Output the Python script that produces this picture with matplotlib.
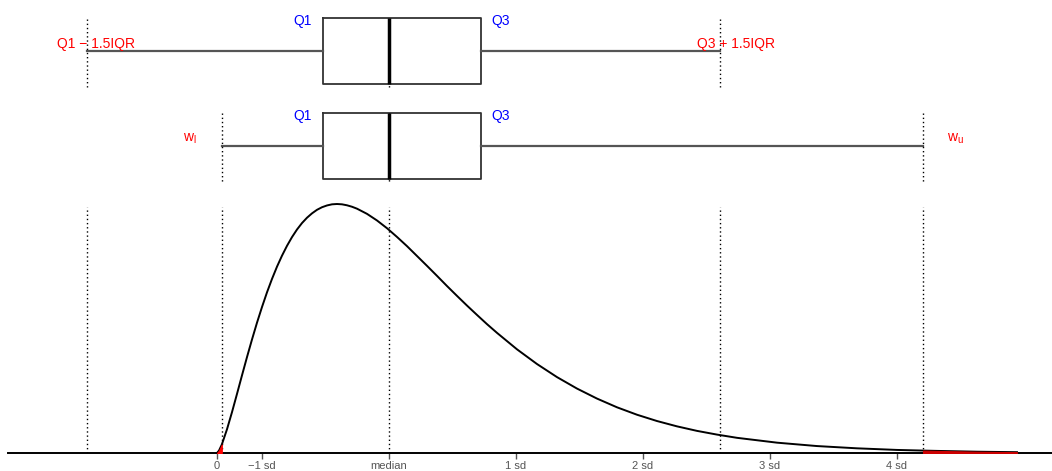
import matplotlib
matplotlib.use('Agg')
import matplotlib.pyplot as plt

plt.rcParams['font.family'] = ['Liberation Sans', 'DejaVu Sans']
plt.rcParams['mathtext.fontset'] = 'custom'
plt.rcParams['mathtext.rm'] = 'Liberation Sans'
plt.rcParams['mathtext.it'] = 'Liberation Sans'

# Summary values (x in data units)
q1, med, q3 = 2.65, 4.3, 6.6
fence_lo, fence_hi = -3.25, 12.58
w_lo, w_hi = 0.12, 17.65
sd = 3.175

# Density curve
dens_x = [0, 0.05, 0.12, 0.25, 0.375, 0.5, 0.625, 0.75, 0.875, 1, 1.125, 1.25,
          1.375, 1.5, 1.625, 1.75, 1.875, 2, 2.125, 2.25, 2.375, 2.5, 2.625,
          2.75, 2.875, 3, 3.125, 3.25, 3.375, 3.5, 3.75, 4, 4.25, 4.5, 4.75,
          5, 5.25, 5.5, 5.75, 6, 6.25, 6.5, 6.75, 7, 7.5, 8, 8.5, 9, 9.5, 10,
          10.5, 11, 11.5, 12, 12.5, 13, 14, 15, 16, 17, 17.65, 18, 19, 20]
dens_y = [0, 0.0015, 0.0052, 0.0147, 0.0253, 0.0366, 0.0481, 0.0594, 0.0703,
          0.0807, 0.0904, 0.0995, 0.1078, 0.1154, 0.1222, 0.1283, 0.1337,
          0.1384, 0.1424, 0.1457, 0.1484, 0.1506, 0.1522, 0.1533, 0.1540,
          0.1542, 0.1540, 0.1534, 0.1525, 0.1513, 0.1481, 0.1440, 0.1392,
          0.1338, 0.1281, 0.1220, 0.1159, 0.1097, 0.1034, 0.0973, 0.0913,
          0.0855, 0.0798, 0.0744, 0.0642, 0.0551, 0.0470, 0.0399, 0.0337,
          0.0283, 0.0237, 0.0198, 0.0165, 0.0137, 0.0114, 0.0094, 0.0064,
          0.0043, 0.0029, 0.0019, 0.0015, 0.0013, 0.0008, 0.0005]

tick_pos = [0] + [med + k * sd for k in (-1, 0, 1, 2, 3, 4)]
tick_lab = ['0', '\u22121 sd', 'median', '1 sd', '2 sd', '3 sd', '4 sd']

W, H = 1052, 471
x0_px, x1_px, scale = 8, 1052, 40.0
zero_px = 217
xlim = ((x0_px - zero_px) / scale, (x1_px - zero_px) / scale)


def main():
    fig = plt.figure(figsize=(W / 100, H / 100), dpi=100)

    # boxplot panel (y in pixel rows from the top)
    top = fig.add_axes([x0_px / W, 1 - 195 / H, (x1_px - x0_px) / W, 195 / H])
    top.set_xlim(xlim)
    top.set_ylim(195, 0)
    top.axis('off')

    stats = [
        dict(med=med, q1=q1, q3=q3, whislo=fence_lo, whishi=fence_hi, fliers=[]),
        dict(med=med, q1=q1, q3=q3, whislo=w_lo, whishi=w_hi, fliers=[]),
    ]
    top.bxp(stats, positions=[51, 146], widths=66, orientation='horizontal',
            showcaps=False, showfliers=False,
            boxprops=dict(color='#333333', lw=1.3),
            whiskerprops=dict(color='#555555', lw=1.6),
            medianprops=dict(color='black', lw=2.5))

    dots = dict(colors='black', lw=1.0, linestyles=[(0, (1, 2))])
    top.vlines([fence_lo, med, fence_hi], 19, 87, **dots)
    top.vlines([w_lo, med, w_hi], 113, 182, **dots)

    px = lambda p: (p - zero_px) / scale
    fs = 10
    top.text(px(312), 21, 'Q1', color='blue', fontsize=fs, ha='right', va='center')
    top.text(px(491), 21, 'Q3', color='blue', fontsize=fs, ha='left', va='center')
    top.text(px(312), 116, 'Q1', color='blue', fontsize=fs, ha='right', va='center')
    top.text(px(491), 116, 'Q3', color='blue', fontsize=fs, ha='left', va='center')
    top.text(px(96), 44, 'Q1 \u2212 1.5IQR', color='red', fontsize=fs, ha='center', va='center')
    top.text(px(736), 44, 'Q3 + 1.5IQR', color='red', fontsize=fs, ha='center', va='center')
    top.text(px(190), 139, r'$\mathrm{w_l}$', color='red', fontsize=fs, ha='center', va='center')
    top.text(px(955), 139, r'$\mathrm{w_u}$', color='red', fontsize=fs, ha='center', va='center')

    # density panel
    bot = fig.add_axes([x0_px / W, 1 - 453 / H, (x1_px - x0_px) / W, 253 / H])
    bot.set_xlim(xlim)
    bot.set_ylim(0, 0.1542 * 253 / 249)
    for s in ('left', 'right', 'top'):
        bot.spines[s].set_visible(False)
    bot.spines['bottom'].set_linewidth(1.4)
    bot.set_yticks([])
    bot.set_xticks(tick_pos, tick_lab)
    bot.tick_params(axis='x', length=4, width=1, color='#555555',
                    labelcolor='#555555', labelsize=8, pad=2)

    bot.plot(dens_x, dens_y, color='black', lw=1.4)
    lo = [x <= w_lo for x in dens_x]
    hi = [x >= w_hi for x in dens_x]
    bot.fill_between(dens_x, dens_y, where=lo, color='red', lw=0.8, zorder=3)
    bot.fill_between(dens_x, dens_y, where=hi, color='#cc0000', lw=0.8, zorder=3)
    bot.vlines([fence_lo, w_lo, med, fence_hi, w_hi], 0, 0.1525, **dots)

    fig.savefig('out.png', dpi=100)


if __name__ == '__main__':
    main()
